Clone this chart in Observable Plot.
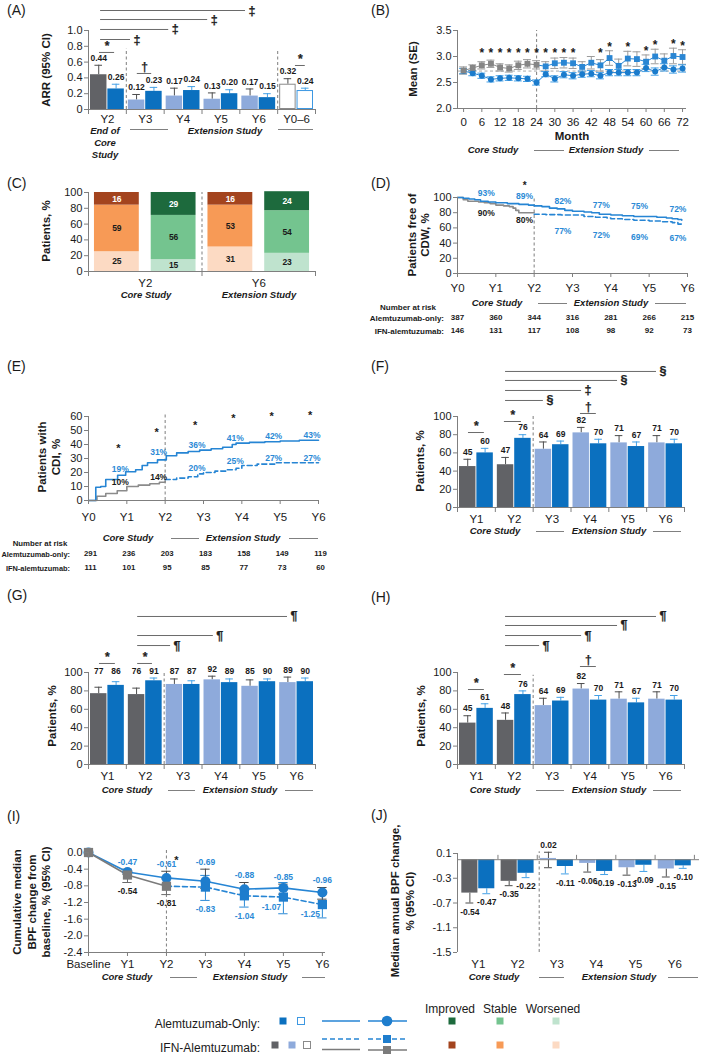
<!DOCTYPE html>
<html><head><meta charset="utf-8">
<script src="https://cdn.jsdelivr.net/npm/d3@7"></script>
<script src="https://cdn.jsdelivr.net/npm/@observablehq/plot@0.6"></script>
<style>
html,body{margin:0;padding:0;background:#fff;}
#root{position:relative;width:702px;height:1056px;overflow:hidden;font-family:'Liberation Sans',Arial,Helvetica,sans-serif;color:#1a1a1a;background:#fff;}
.t{position:absolute;white-space:nowrap;line-height:1;}
.sym{opacity:0.99;}
</style></head><body><div id="root"></div>
<script>
// ================= DATA =================
// (A) ARR
const catsA = ["Y2","Y3","Y4","Y5","Y6","Y0–6"];
const arrIFN = [0.44,0.12,0.17,0.13,0.17,0.32];
const arrIFNUp = [0.56,0.19,0.27,0.21,0.26,0.39];
const arrAlem = [0.26,0.23,0.24,0.20,0.15,0.24];
const arrAlemUp = [0.32,0.28,0.29,0.25,0.20,0.27];
const sigA = [
  {from:-0.18,to:0.61,level:0.886,sym:"‡",pos:"end"},
  {from:-0.18,to:1.62,level:1.013,sym:"‡",pos:"end"},
  {from:-0.18,to:2.65,level:1.139,sym:"‡",pos:"end"},
  {from:-0.18,to:3.65,level:1.253,sym:"‡",pos:"end"},
  {from:-0.21,to:0.19,level:0.722,sym:"*",pos:"top"},
  {from:0.79,to:1.17,level:0.456,sym:"†",pos:"top"},
  {from:4.97,to:5.23,level:0.557,sym:"*",pos:"top"}
];
// (B) Mean (SE) by month
const monthsB = [0,3,6,9,12,15,18,21,24,27,30,33,36,39,42,45,48,51,54,57,60,63,66,69,72];
const mriIFN = [2.73,2.78,2.83,2.86,2.79,2.77,2.83,2.86,2.84,2.81,2.87,2.88,2.87,2.80,2.88,2.83,2.97,2.82,2.96,2.95,2.90,3.00,2.92,3.01,2.99];
const mriIFNse = [0.07,0.06,0.07,0.07,0.07,0.07,0.08,0.08,0.08,0.09,0.10,0.10,0.10,0.10,0.12,0.11,0.14,0.13,0.14,0.14,0.13,0.14,0.13,0.15,0.14];
const mriAlem = [2.72,2.68,2.63,2.56,2.58,2.59,2.58,2.57,2.50,2.66,2.57,2.65,2.63,2.66,2.67,2.63,2.69,2.69,2.69,2.69,2.78,2.71,2.79,2.75,2.77];
const mriAlemSe = [0.05,0.05,0.05,0.05,0.05,0.05,0.05,0.05,0.05,0.05,0.06,0.06,0.06,0.06,0.06,0.06,0.06,0.06,0.06,0.06,0.07,0.07,0.07,0.07,0.07];
const starMonthsB = [6,9,12,15,18,21,24,27,30,33,36,45,48,54,60,63,69,72];
const baselineB = 2.72;
// (C) Improved / Stable / Worsened
const groupsC = ["IFN Y2","Alem Y2","IFN Y6","Alem Y6"];
const improvedC = [16,29,16,24];
const stableC = [59,56,53,54];
const worsenedC = [25,15,31,23];
// (D) CDW Kaplan-Meier
const cdwAlem = [[0,100],[0.15,99],[0.3,98],[0.45,97],[0.6,95],[0.8,94],[1.0,93],[1.3,92],[1.6,91],[1.85,90],[2.0,89],[2.2,88],[2.4,86],[2.6,85],[2.8,83],[3.0,82],[3.3,81],[3.5,80],[3.7,78],[4.0,77],[4.3,76],[4.6,75],[5.0,75],[5.2,74],[5.45,73],[5.6,72],[5.75,71],[5.85,70]];
const cdwIFNcore = [[0,100],[0.15,97],[0.27,95],[0.55,94],[0.7,93],[0.85,92],[1.0,90],[1.2,89],[1.35,88],[1.45,86],[1.52,83],[1.6,80],[2.0,80]];
const cdwIFNext = [[2.0,78],[2.3,77.5],[2.7,77],[3.0,77],[3.3,75],[3.6,74],[3.9,73],[4.0,72],[4.3,71],[4.6,70],[5.0,69],[5.3,68],[5.6,67],[5.75,65],[5.85,65]];
const cdwUp = [93,89,82,77,75,72];
const cdwLow = [90,80,77,72,69,67];
const starYearsD = [2];
const riskAlemD = [387,360,344,316,281,266,215];
const riskIFND = [146,131,117,108,98,92,73];
// (E) CDI Kaplan-Meier
const cdiAlem = [[0,0],[0.19,9.5],[0.32,10],[0.45,15],[0.76,18],[0.97,20.5],[1.23,22],[1.4,25],[1.54,27],[1.8,29],[2.03,32],[2.3,34],[2.6,35],[2.9,36],[3.2,37],[3.5,38],[3.75,40],[3.85,41],[4.2,41.5],[4.6,42],[5.0,42.5],[5.5,43],[6.0,43]];
const cdiIFNcore = [[0,0],[0.22,3],[0.45,5],[0.75,7],[1.0,10],[1.3,11],[1.6,12],[1.85,13],[2.0,14]];
const cdiIFNext = [[2.0,15],[2.3,16],[2.6,17],[2.85,19],[3.0,20],[3.3,21],[3.6,22],[3.85,23],[4.0,25],[4.4,26],[4.9,27],[6.0,27]];
const cdiUp = [19,31,36,41,42,43];
const cdiLow = [10,14,20,25,27,27];
const starYearsE = [1,2,3,4,5,6];
const riskAlemE = [291,236,203,183,158,149,119];
const riskIFNE = [111,101,95,85,77,73,60];
// (F)
const catsY = ["Y1","Y2","Y3","Y4","Y5","Y6"];
const fIFN = [45,47,64,82,71,71], fIFNUp = [53,55,72,88,79,79];
const fAlem = [60,76,69,70,67,70], fAlemUp = [65,80,73,75,72,75];
const sigF = [
  {from:0.77,to:4.76,level:149.5,sym:"§",pos:"end"},
  {from:0.77,to:3.73,level:139.6,sym:"§",pos:"end"},
  {from:0.77,to:2.78,level:128.6,sym:"‡",pos:"end"},
  {from:0.77,to:1.77,level:117.6,sym:"§",pos:"end"},
  {from:-0.21,to:0.21,level:82.4,sym:"*",pos:"top"},
  {from:0.74,to:1.19,level:94.5,sym:"*",pos:"top"},
  {from:2.75,to:3.17,level:103.3,sym:"†",pos:"top"}
];
// (G)
const gIFN = [77,76,87,92,85,89], gIFNUp = [84,83,93,96,92,95];
const gAlem = [86,91,87,89,90,90], gAlemUp = [90,94,91,93,93,94];
const sigG = [
  {from:0.80,to:4.76,level:160.9,sym:"¶",pos:"end"},
  {from:0.80,to:2.80,level:140.2,sym:"¶",pos:"end"},
  {from:0.80,to:1.67,level:129.3,sym:"¶",pos:"end"},
  {from:-0.21,to:0.21,level:109.8,sym:"*",pos:"top"},
  {from:0.80,to:1.19,level:109.8,sym:"*",pos:"top"}
];
// (H)
const hIFN = [45,48,64,82,71,71], hIFNUp = [53,56,72,88,79,79];
const hAlem = [61,76,69,70,67,70], hAlemUp = [66,80,73,75,72,75];
const sigH = [
  {from:0.77,to:4.76,level:160.9,sym:"¶",pos:"end"},
  {from:0.77,to:3.73,level:151.1,sym:"¶",pos:"end"},
  {from:0.77,to:2.78,level:140.2,sym:"¶",pos:"end"},
  {from:0.77,to:1.67,level:129.3,sym:"¶",pos:"end"},
  {from:-0.21,to:0.21,level:81.5,sym:"*",pos:"top"},
  {from:0.74,to:1.19,level:97.8,sym:"*",pos:"top"},
  {from:2.75,to:3.17,level:106.5,sym:"†",pos:"top"}
];
// (I) cumulative BPF change
const catsI = ["Baseline","Y1","Y2","Y3","Y4","Y5","Y6"];
const bpfAlem = [0,-0.47,-0.61,-0.69,-0.88,-0.85,-0.96];
const bpfAlemLo = [0,-0.52,-0.76,-0.86,-1.00,-1.00,-1.12];
const bpfAlemHi = [0,-0.40,-0.45,-0.40,-0.72,-0.76,-0.84];
const bpfIFN = [0,-0.54,-0.81,-0.83,-1.04,-1.07,-1.25];
const bpfIFNLo = [0,-0.72,-1.01,-1.15,-1.31,-1.47,-1.57];
const bpfIFNHi = [0,-0.47,-0.63,-0.55,-0.87,-0.72,-0.95];
// (J) annual BPF change
const jIFN = [-0.54,-0.35,0.02,-0.06,-0.13,-0.15];
const jIFNLo = [-0.70,-0.42,-0.13,-0.20,-0.25,-0.28];
const jIFNHi = [-0.54,-0.35,0.12,-0.06,-0.13,-0.15];
const jAlem = [-0.47,-0.22,-0.11,-0.19,-0.09,-0.10];
const jAlemLo = [-0.55,-0.29,-0.23,-0.24,-0.19,-0.14];

// ================= STYLE =================
const root = document.getElementById("root");
const FONT = "'Liberation Sans', Arial, Helvetica, sans-serif";
const AX = "#7f7f7f", TXT = "#1a1a1a", DASH = "#8a8a8a";
const BLUE = "#0b70bf", LIGHT = "#8eaadb", GREY = "#616266";
const LINEBLUE = "#2685d4", LBL = "#2b8ad6", LINEGREY = "#8b8b8b";
const ERRG = "#4d4d4d", ERRB = "#44a0e6";
const IFNPAL = {improved:"#a3441e", stable:"#f79a56", worsened:"#fcdac3"};
const ALEMPAL = {improved:"#1d6a3d", stable:"#74c48f", worsened:"#bfe3ce"};

function tx(s, x, y, o = {}) {
  const d = document.createElement("div");
  d.className = "t"; d.textContent = s;
  Object.assign(d.style, {left: x + "px", top: y + "px", fontSize: (o.size ?? 9.5) + "px",
    fontWeight: o.weight ?? "bold", fontStyle: o.style ?? "normal", color: o.color ?? TXT});
  const ax = o.anchor === "start" ? "0" : o.anchor === "end" ? "-100%" : "-50%";
  d.style.transform = `translate(${ax},-50%)` + (o.rotate ? ` rotate(${o.rotate}deg)` : "");
  root.append(d);
}
function hl(x1, x2, y, color = "#808080") {
  const d = document.createElement("div");
  Object.assign(d.style, {position: "absolute", left: x1 + "px", top: (y - 0.5) + "px", width: (x2 - x1) + "px", height: "1px", background: color});
  root.append(d);
}
function put(el, left, top) {
  el.style.position = "absolute"; el.style.left = left + "px"; el.style.top = top + "px"; root.append(el);
}
function mk(o) {
  return Plot.plot({
    width: o.W ?? 351, height: o.H,
    marginLeft: o.mL, marginRight: o.mR, marginTop: o.mT, marginBottom: o.mB,
    x: {domain: o.xd, label: null}, y: {domain: o.yd, label: null},
    color: {type: "identity"},
    style: {background: "transparent", overflow: "visible", fontFamily: FONT, fontSize: "11px", color: TXT},
    marks: o.marks
  });
}
const yAxis = (ticks, fmt) => Plot.axisY({ticks, tickFormat: fmt, tickSize: 4, tickPadding: 2, stroke: AX, fill: TXT, fontSize: 11, label: null});
const xTicks = (ticks, size = 5) => Plot.axisX({ticks, tickSize: size, tickFormat: () => "", stroke: AX, label: null});
const xLabels = (ticks, fmt, pad = 7, size = 11.5) => Plot.axisX({ticks, tickSize: 0, tickPadding: pad, tickFormat: fmt, fill: TXT, fontSize: size, label: null});
const dashRule = (x, y1, y2) => Plot.ruleX([x], {y1, y2, stroke: DASH, strokeDasharray: "3,2.5", strokeWidth: 1.1});
const bracketMarks = (br) => [
  Plot.ruleY(br, {y: "level", x1: "from", x2: "to", stroke: "#6a6a6a"}),
  Plot.text(br.filter(b => b.pos === "end"), {x: "to", y: "level", text: "sym", textAnchor: "start", dx: 3, fontSize: 12.5, fontWeight: "bold", fill: TXT, stroke: TXT, strokeWidth: 0.25, opacity: 0.99, className: "sym"}),
  Plot.text(br.filter(b => b.pos === "top"), {x: d => (d.from + d.to) / 2, y: "level", text: "sym", dy: -6, fontSize: 12, fontWeight: "bold", fill: TXT, stroke: TXT, strokeWidth: 0.25, opacity: 0.99, className: "sym"})
];

function barPanel(c) {
  const rows = c.cats.map((cat, i) => ({i, cat, ifn: c.ifn[i], ifnUp: c.ifnUp[i], alem: c.alem[i], alemUp: c.alemUp[i]}));
  const W = 0.435, G = 0.012, CAP = 0.1;
  const xI = d => d.i - G - W / 2, xA = d => d.i + G + W / 2;
  const bounds = d3.range(c.xd[0], c.xd[1] + 1e-6, 1);
  const outline = c.outline || (() => false);
  const solid = rows.filter(d => !outline(d.i)), open = rows.filter(d => outline(d.i));
  const marks = [
    ...c.dash.map(q => dashRule(q.x, c.yd[0], q.top)),
    Plot.ruleX(rows, {x: xI, y1: "ifn", y2: "ifnUp", stroke: ERRG}),
    Plot.ruleY(rows, {y: "ifnUp", x1: d => xI(d) - CAP, x2: d => xI(d) + CAP, stroke: ERRG}),
    Plot.ruleX(rows, {x: xA, y1: "alem", y2: "alemUp", stroke: ERRB}),
    Plot.ruleY(rows, {y: "alemUp", x1: d => xA(d) - CAP, x2: d => xA(d) + CAP, stroke: ERRB}),
    Plot.rectY(solid, {x1: d => d.i - G - W, x2: d => d.i - G, y1: 0, y2: "ifn", fill: d => c.ifnFill(d.i)}),
    Plot.rectY(solid, {x1: d => d.i + G, x2: d => d.i + G + W, y1: 0, y2: "alem", fill: BLUE}),
    Plot.rectY(open, {x1: d => d.i - G - W, x2: d => d.i - G, y1: 0, y2: "ifn", fill: "white", stroke: "#8a8a8a", inset: 0.5}),
    Plot.rectY(open, {x1: d => d.i + G, x2: d => d.i + G + W, y1: 0, y2: "alem", fill: "white", stroke: "#3d98e2", inset: 0.5}),
    Plot.ruleX([c.xd[0]], {stroke: AX}),
    Plot.ruleY([c.yd[0]], {stroke: AX}),
    yAxis(c.yTicks, c.yFmt),
    xTicks(bounds),
    xLabels(rows.map(d => d.i), i => c.cats[i], c.pad ?? 7),
    Plot.text(rows, {x: xI, y: d => c.labelY(d.ifnUp), text: d => c.fmt(d.ifn), dy: -7, fontSize: 8.5, fontWeight: "bold", fill: TXT}),
    Plot.text(rows, {x: xA, y: d => c.labelY(d.alemUp), text: d => c.fmt(d.alem), dy: -7, fontSize: 8.5, fontWeight: "bold", fill: TXT}),
    ...bracketMarks(c.brackets)
  ];
  put(mk({H: c.H, mL: c.mL, mR: c.mR, mT: c.mT, mB: c.mB, xd: c.xd, yd: c.yd, marks}), c.left, c.top);
}

// ================= PANEL A =================
barPanel({left: 0, top: 0, H: 165, mL: 88, mR: 36, mT: 30, mB: 56, xd: [-0.5, 5.5], yd: [0, 1], pad: 5.5,
  yTicks: [0, 0.2, 0.4, 0.6, 0.8, 1.0], yFmt: d => d === 0 ? "0" : d.toFixed(1),
  cats: catsA, ifn: arrIFN, ifnUp: arrIFNUp, alem: arrAlem, alemUp: arrAlemUp,
  ifnFill: i => i === 0 ? GREY : LIGHT, outline: i => i === 5,
  fmt: v => v.toFixed(2), labelY: u => u, dash: [{x: 0.5, top: 0.77}, {x: 4.5, top: 0.75}], brackets: sigA});

// ================= PANEL B =================
{
  const rows = monthsB.map((m, i) => ({m, ifn: mriIFN[i], ifnSe: mriIFNse[i], alem: mriAlem[i], alemSe: mriAlemSe[i]}));
  const core = rows.filter(d => d.m <= 24), extLine = rows.filter(d => d.m >= 24), ext = rows.filter(d => d.m > 24);
  const cap = 1.3;
  const marks = [
    Plot.ruleY([baselineB], {stroke: "#a8a8a8", strokeDasharray: "3,2.5"}),
    dashRule(24, 2.0, 3.5),
    Plot.ruleX(rows, {x: "m", y1: d => d.ifn - d.ifnSe, y2: d => d.ifn + d.ifnSe, stroke: "#9c9c9c"}),
    Plot.ruleY(rows, {y: d => d.ifn + d.ifnSe, x1: d => d.m - cap, x2: d => d.m + cap, stroke: "#9c9c9c"}),
    Plot.ruleY(rows, {y: d => d.ifn - d.ifnSe, x1: d => d.m - cap, x2: d => d.m + cap, stroke: "#9c9c9c"}),
    Plot.ruleX(rows, {x: "m", y1: d => d.alem - d.alemSe, y2: d => d.alem + d.alemSe, stroke: ERRB}),
    Plot.ruleY(rows, {y: d => d.alem + d.alemSe, x1: d => d.m - cap, x2: d => d.m + cap, stroke: ERRB}),
    Plot.ruleY(rows, {y: d => d.alem - d.alemSe, x1: d => d.m - cap, x2: d => d.m + cap, stroke: ERRB}),
    Plot.line(core, {x: "m", y: "ifn", stroke: LINEGREY, strokeWidth: 1}),
    Plot.line(extLine, {x: "m", y: "ifn", stroke: LINEBLUE, strokeWidth: 1}),
    Plot.line(rows, {x: "m", y: "alem", stroke: LINEBLUE, strokeWidth: 1}),
    Plot.dot(rows, {x: "m", y: "alem", r: 3, fill: "#1a7bcc"}),
    Plot.dot(core, {x: "m", y: "ifn", symbol: "square", r: 3.3, fill: "#858585"}),
    Plot.dot(ext, {x: "m", y: "ifn", symbol: "square", r: 3.3, fill: "#2a86d3"}),
    Plot.ruleX([-2], {stroke: AX}),
    Plot.ruleY([2.0], {stroke: AX}),
    yAxis([2.0, 2.5, 3.0, 3.5], d => d.toFixed(1)),
    Plot.axisX({ticks: d3.range(0, 73, 6), tickSize: 4, tickPadding: 5, stroke: AX, fill: TXT, fontSize: 11.5, label: null}),
    Plot.text(rows.filter(d => starMonthsB.includes(d.m)), {x: "m", y: d => Math.max(d.ifn + d.ifnSe, 2.98), text: () => "*", dy: -4, fontSize: 12, fontWeight: "bold", fill: TXT})
  ];
  put(mk({H: 160, mL: 106, mR: 16, mT: 30, mB: 52, xd: [-2, 73.3], yd: [2.0, 3.5], marks}), 351, 0);
}

// ================= PANEL C =================
{
  const table = groupsC.map((g, k) => ({k, g, worsened: worsenedC[k], stable: stableC[k], improved: improvedC[k]}));
  const keys = ["worsened", "stable", "improved"];
  const series = d3.stack().keys(keys)(table);
  const segs = [];
  series.forEach(s => s.forEach((p, k) => {
    const pal = k % 2 === 0 ? IFNPAL : ALEMPAL;
    segs.push({k, key: s.key, y1: p[0], y2: p[1], v: p[1] - p[0], fill: pal[s.key], tcol: s.key === "improved" ? "#ffffff" : TXT});
  }));
  const marks = [
    Plot.rectY(segs, {x1: d => d.k + 0.105, x2: d => d.k + 0.895, y1: "y1", y2: "y2", fill: "fill"}),
    Plot.text(segs, {x: d => d.k + 0.5, y: d => (d.y1 + d.y2) / 2, text: "v", fill: "tcol", fontSize: 8.5, fontWeight: "bold"}),
    dashRule(2, 0, 100),
    Plot.ruleX([0], {stroke: AX}),
    Plot.ruleY([0], {stroke: AX}),
    yAxis([0, 20, 40, 60, 80, 100], d => String(d)),
    xTicks([0, 2, 4]),
    xLabels([1, 3], d => d === 1 ? "Y2" : "Y6", 7)
  ];
  put(mk({H: 110, mL: 88, mR: 36, mT: 12, mB: 19, xd: [0, 4], yd: [0, 100], marks}), 0, 180);
}

// ================= PANEL D =================
{
  const yrs = d3.range(0, 7);
  const up = cdwUp.map((v, j) => ({yr: j + 1, v}));
  const lowCore = cdwLow.slice(0, 2).map((v, j) => ({yr: j + 1, v}));
  const lowExt = cdwLow.slice(2).map((v, j) => ({yr: j + 3, v}));
  const marks = [
    dashRule(2, 0, 100),
    Plot.line(cdwIFNcore, {x: d => d[0], y: d => d[1], curve: "step-after", stroke: LINEGREY, strokeWidth: 1.6}),
    Plot.line(cdwIFNext, {x: d => d[0], y: d => d[1], curve: "step-after", stroke: LINEBLUE, strokeWidth: 1.6, strokeDasharray: "5,3"}),
    Plot.line(cdwAlem, {x: d => d[0], y: d => d[1], curve: "step-after", stroke: LINEBLUE, strokeWidth: 1.6}),
    Plot.ruleX([0], {stroke: AX}),
    Plot.ruleY([0], {stroke: AX}),
    yAxis([0, 20, 40, 60, 80, 100], d => String(d)),
    Plot.axisX({ticks: yrs, tickSize: 4, tickPadding: 6.5, tickFormat: d => "Y" + d, stroke: AX, fill: TXT, fontSize: 11.5, label: null}),
    Plot.text(up, {x: d => d.yr - 0.25, y: "v", text: d => d.v + "%", dy: -10, fill: LBL, fontSize: 8.5, fontWeight: "bold"}),
    Plot.text(lowCore, {x: d => d.yr - 0.25, y: "v", text: d => d.v + "%", dy: 8, fill: TXT, fontSize: 8.5, fontWeight: "bold"}),
    Plot.text(lowExt, {x: d => d.yr - 0.25, y: "v", text: d => d.v + "%", dy: 16, fill: LBL, fontSize: 8.5, fontWeight: "bold"}),
    Plot.text(up.filter(d => starYearsD.includes(d.yr)), {x: d => d.yr - 0.25, y: "v", text: () => "*", dy: -20, fill: TXT, fontSize: 10, fontWeight: "bold"}),
    Plot.text(yrs, {x: d => d, text: d => riskAlemD[d], frameAnchor: "bottom", dy: 46, fontSize: 8, fontWeight: "bold", fill: TXT}),
    Plot.text(yrs, {x: d => d, text: d => riskIFND[d], frameAnchor: "bottom", dy: 59, fontSize: 8, fontWeight: "bold", fill: TXT})
  ];
  put(mk({H: 165, mL: 106, mR: 15, mT: 17, mB: 72, xd: [0, 6], yd: [0, 100], marks}), 351, 180);
}

// ================= PANEL E =================
{
  const yrs = d3.range(0, 7);
  const up = cdiUp.map((v, j) => ({yr: j + 1, v}));
  const lowCore = cdiLow.slice(0, 2).map((v, j) => ({yr: j + 1, v}));
  const lowExt = cdiLow.slice(2).map((v, j) => ({yr: j + 3, v}));
  const marks = [
    dashRule(2, 0, 61),
    Plot.line(cdiIFNcore, {x: d => d[0], y: d => d[1], curve: "step-after", stroke: LINEGREY, strokeWidth: 1.6}),
    Plot.line(cdiIFNext, {x: d => d[0], y: d => d[1], curve: "step-after", stroke: LINEBLUE, strokeWidth: 1.6, strokeDasharray: "5,3"}),
    Plot.line(cdiAlem, {x: d => d[0], y: d => d[1], curve: "step-after", stroke: LINEBLUE, strokeWidth: 1.6}),
    Plot.ruleX([0], {stroke: AX}),
    Plot.ruleY([0], {stroke: AX}),
    yAxis([0, 10, 20, 30, 40, 50, 60], d => String(d)),
    Plot.axisX({ticks: yrs, tickSize: 4, tickPadding: 8, tickFormat: d => "Y" + d, stroke: AX, fill: TXT, fontSize: 11.5, label: null}),
    Plot.text(up, {x: d => d.yr - 0.17, y: "v", text: d => d.v + "%", dy: -5, fill: LBL, fontSize: 8.5, fontWeight: "bold"}),
    Plot.text(lowCore, {x: d => d.yr - 0.17, y: "v", text: d => d.v + "%", dy: -4, fill: TXT, fontSize: 8.5, fontWeight: "bold"}),
    Plot.text(lowExt, {x: d => d.yr - 0.17, y: "v", text: d => d.v + "%", dy: -4, fill: LBL, fontSize: 8.5, fontWeight: "bold"}),
    Plot.text(up.filter(d => starYearsE.includes(d.yr)), {x: d => d.yr - 0.22, y: "v", text: () => "*", dy: -25, fill: TXT, fontSize: 11, fontWeight: "bold"}),
    Plot.text(yrs, {x: d => d, text: d => riskAlemE[d], frameAnchor: "bottom", dy: 55, dx: 2, fontSize: 7.8, fontWeight: "bold", fill: TXT}),
    Plot.text(yrs, {x: d => d, text: d => riskIFNE[d], frameAnchor: "bottom", dy: 69, dx: 2, fontSize: 7.8, fontWeight: "bold", fill: TXT})
  ];
  put(mk({H: 180, mL: 88, mR: 33, mT: 16, mB: 80, xd: [0, 6], yd: [0, 60], marks}), 0, 400);
}

// ================= PANELS F, G, H =================
barPanel({left: 351, top: 360, H: 170, mL: 106, mR: 18, mT: 56, mB: 23, xd: [-0.5, 5.5], yd: [0, 100],
  yTicks: [0, 20, 40, 60, 80, 100], yFmt: d => String(d),
  cats: catsY, ifn: fIFN, ifnUp: fIFNUp, alem: fAlem, alemUp: fAlemUp,
  ifnFill: i => i < 2 ? GREY : LIGHT, fmt: v => String(v), labelY: u => u,
  dash: [{x: 1.5, top: 100}], brackets: sigF});
barPanel({left: 0, top: 605, H: 180, mL: 88, mR: 36, mT: 67, mB: 21, xd: [-0.5, 5.5], yd: [0, 100],
  yTicks: [0, 20, 40, 60, 80, 100], yFmt: d => String(d),
  cats: catsY, ifn: gIFN, ifnUp: gIFNUp, alem: gAlem, alemUp: gAlemUp,
  ifnFill: i => i < 2 ? GREY : LIGHT, fmt: v => String(v), labelY: u => Math.max(u, 94),
  dash: [{x: 1.5, top: 100}], brackets: sigG});
barPanel({left: 351, top: 605, H: 180, mL: 106, mR: 18, mT: 67, mB: 21, xd: [-0.5, 5.5], yd: [0, 100],
  yTicks: [0, 20, 40, 60, 80, 100], yFmt: d => String(d),
  cats: catsY, ifn: hIFN, ifnUp: hIFNUp, alem: hAlem, alemUp: hAlemUp,
  ifnFill: i => i < 2 ? GREY : LIGHT, fmt: v => String(v), labelY: u => u,
  dash: [{x: 1.5, top: 97}], brackets: sigH});

// ================= PANEL I =================
{
  const rows = catsI.map((c, i) => ({i, c, a: bpfAlem[i], aLo: bpfAlemLo[i], aHi: bpfAlemHi[i], f: bpfIFN[i], fLo: bpfIFNLo[i], fHi: bpfIFNHi[i]}));
  const rs = rows.filter(d => d.i > 0);
  const cap = 0.12;
  const ifnCol = d => d.i <= 2 ? "#6b6b6b" : LBL;
  const marks = [
    dashRule(2, -2.4, 0.05),
    Plot.ruleX(rs, {x: "i", y1: "fLo", y2: "fHi", stroke: ifnCol}),
    Plot.ruleY(rs, {y: "fLo", x1: d => d.i - cap, x2: d => d.i + cap, stroke: ifnCol}),
    Plot.ruleY(rs, {y: "fHi", x1: d => d.i - cap, x2: d => d.i + cap, stroke: ifnCol}),
    Plot.ruleX(rs, {x: "i", y1: "aLo", y2: "aHi", stroke: "#4a4a4a"}),
    Plot.ruleY(rs, {y: "aLo", x1: d => d.i - cap, x2: d => d.i + cap, stroke: "#4a4a4a"}),
    Plot.ruleY(rs, {y: "aHi", x1: d => d.i - cap, x2: d => d.i + cap, stroke: "#4a4a4a"}),
    Plot.line(rows, {x: "i", y: "a", stroke: LINEBLUE, strokeWidth: 1.6}),
    Plot.line(rows.filter(d => d.i <= 2), {x: "i", y: "f", stroke: "#7b7b7b", strokeWidth: 1.6}),
    Plot.line(rows.filter(d => d.i >= 2), {x: "i", y: "f", stroke: LINEBLUE, strokeWidth: 1.6, strokeDasharray: "5,3"}),
    Plot.dot(rows, {x: "i", y: "a", r: 5, fill: "#1e7dcd"}),
    Plot.dot(rows.filter(d => d.i <= 2), {x: "i", y: "f", symbol: "square", r: 5.2, fill: "#7b7b7b"}),
    Plot.dot(rows.filter(d => d.i > 2), {x: "i", y: "f", symbol: "square", r: 5.2, fill: "#1e7dcd"}),
    Plot.ruleX([0], {stroke: AX}),
    Plot.ruleY([-2.4], {stroke: AX}),
    yAxis(d3.range(0, -2.41, -0.4), d => d.toFixed(1)),
    xTicks(d3.range(0, 7), 4),
    xLabels(d3.range(0, 7), i => catsI[i], 7),
    Plot.text(rs, {x: "i", y: "aHi", text: d => d.a.toFixed(2), dy: -7, fill: LBL, fontSize: 8.5, fontWeight: "bold"}),
    Plot.text(rs.filter(d => d.i <= 2), {x: "i", y: "fLo", text: d => d.f.toFixed(2), dy: 9, fill: TXT, fontSize: 8.5, fontWeight: "bold"}),
    Plot.text(rs.filter(d => d.i > 2 && d.i < 5), {x: "i", y: "fLo", text: d => d.f.toFixed(2), dy: 9, fill: LBL, fontSize: 8.5, fontWeight: "bold"}),
    Plot.text(rs.filter(d => d.i >= 5), {x: "i", y: "f", text: d => d.f.toFixed(2), dx: -12, dy: 10, fill: LBL, fontSize: 8.5, fontWeight: "bold"}),
    Plot.text(rs.filter(d => d.i === 2), {x: "i", y: "aHi", text: () => "*", dx: 10, dy: -11, fill: TXT, fontSize: 11, fontWeight: "bold"})
  ];
  put(mk({H: 145, mL: 88, mR: 26, mT: 22, mB: 23, xd: [0, 6.08], yd: [-2.4, 0], marks}), 0, 830);
}

// ================= PANEL J =================
{
  const rows = catsY.map((c, i) => ({i, c, f: jIFN[i], fLo: jIFNLo[i], fHi: jIFNHi[i], a: jAlem[i], aLo: jAlemLo[i]}));
  const W = 0.41, G = 0.01, cap = 0.1;
  const xI = d => d.i - G - W / 2, xA = d => d.i + G + W / 2;
  const marks = [
    dashRule(1.55, -1.5, 0.13),
    Plot.ruleX(rows, {x: xI, y1: "fLo", y2: "fHi", stroke: ERRG}),
    Plot.ruleY(rows, {y: "fLo", x1: d => xI(d) - cap, x2: d => xI(d) + cap, stroke: ERRG}),
    Plot.ruleY(rows.filter(d => d.fHi > d.f), {y: "fHi", x1: d => xI(d) - cap, x2: d => xI(d) + cap, stroke: ERRG}),
    Plot.ruleX(rows, {x: xA, y1: "aLo", y2: "a", stroke: ERRB}),
    Plot.ruleY(rows, {y: "aLo", x1: d => xA(d) - cap, x2: d => xA(d) + cap, stroke: ERRB}),
    Plot.rectY(rows, {x1: d => d.i - G - W, x2: d => d.i - G, y1: 0, y2: "f", fill: d => d.i < 2 ? GREY : LIGHT}),
    Plot.rectY(rows, {x1: d => d.i + G, x2: d => d.i + G + W, y1: 0, y2: "a", fill: BLUE}),
    Plot.ruleX([-0.53], {stroke: AX}),
    Plot.ruleY([0], {stroke: AX}),
    Plot.ruleX(d3.range(0.5, 5.6, 1), {y1: 0, y2: 0.07, stroke: AX}),
    yAxis([0.1, -0.3, -0.7, -1.1, -1.5], d => d.toFixed(1)),
    xLabels(rows.map(d => d.i), i => catsY[i], 7),
    Plot.text(rows.filter(d => d.f < 0), {x: xI, y: "fLo", text: d => d.f.toFixed(2), dy: 9, fill: TXT, fontSize: 8.5, fontWeight: "bold"}),
    Plot.text(rows.filter(d => d.f >= 0), {x: xI, y: "fHi", text: d => d.f.toFixed(2), dy: -7, fill: TXT, fontSize: 8.5, fontWeight: "bold"}),
    Plot.text(rows, {x: xA, y: "aLo", text: d => d.a.toFixed(2), dy: 9, fill: TXT, fontSize: 8.5, fontWeight: "bold"})
  ];
  put(mk({H: 145, mL: 106, mR: 3, mT: 23, mB: 23, xd: [-0.53, 5.63], yd: [-1.5, 0.1], marks}), 351, 830);
}

// ================= TEXT: panel letters, titles, footers =================
[["(A)",7,10],["(B)",371,10],["(C)",7,183],["(D)",371,183],["(E)",7,366],["(F)",371,366],["(G)",7,595],["(H)",371,597],["(I)",7,816],["(J)",371,815]]
  .forEach(([s,x,y]) => tx(s, x, y, {size: 14, weight: "normal", anchor: "start"}));

const yt = (s, x, y) => tx(s, x, y, {size: 11.5, weight: "bold", rotate: -90});
yt("ARR (95% CI)", 47, 70);
yt("Mean (SE)", 414, 69);
yt("Patients, %", 47, 231);
yt("Patients free of", 413, 235); yt("CDW, %", 426, 235);
yt("Patients with", 43, 457); yt("CDI, %", 57, 457);
yt("Patients, %", 421, 461);
yt("Patients, %", 53, 716);
yt("Patients, %", 422, 716);
yt("Cumulative median", 18, 902); yt("BPF change from", 33, 902); yt("baseline, % (95% CI)", 47, 902);
yt("Median annual BPF change,", 396, 901); yt("% (95% CI)", 411, 901);
tx("Month", 572, 137, {size: 11.5, weight: "bold"});

const it = (s, x, y) => tx(s, x, y, {size: 9.5, weight: "bold", style: "italic"});
// A
it("End of", 105, 131); it("Core", 105, 143); it("Study", 105, 155);
it("Extension Study", 225, 131); hl(130, 168, 129); hl(278, 313, 129);
// B
it("Core Study", 493, 150); hl(534, 564, 150); it("Extension Study", 606, 150); hl(649, 679, 150);
// C
it("Core Study", 146, 295); it("Extension Study", 259, 295);
// D
it("Core Study", 497, 303); hl(538, 567, 303); it("Extension Study", 611, 303); hl(655, 686, 303);
tx("Number at risk", 408, 308, {size: 8}); tx("Alemtuzumab-only:", 444, 319, {size: 8, anchor: "end"}); tx("IFN-alemtuzumab:", 444, 332, {size: 8, anchor: "end"});
// E
it("Core Study", 128, 538); hl(171, 199, 538); it("Extension Study", 243, 538); hl(289, 318, 538);
tx("Number at risk", 40, 544, {size: 7.8}); tx("Alemtuzumab-only:", 70, 555, {size: 7.4, anchor: "end"}); tx("IFN-alemtuzumab:", 70, 569, {size: 7.4, anchor: "end"});
// F
it("Core Study", 495, 531); hl(536, 564, 531); it("Extension Study", 609, 531); hl(653, 681, 531);
// G
it("Core Study", 127, 790); hl(168, 195, 790); it("Extension Study", 240, 790); hl(285, 313, 790);
// H
it("Core Study", 495, 790); hl(536, 564, 790); it("Extension Study", 609, 790); hl(653, 681, 790);
// I
it("Core Study", 127, 977); hl(170, 197, 977); it("Extension Study", 250, 977); hl(302, 325, 977);
// J
it("Core Study", 494, 977); hl(539, 564, 977); it("Extension Study", 619, 977); hl(668, 698, 977);

// ================= LEGEND =================
{
  const lg = document.createElement("div");
  lg.style.position = "absolute"; lg.style.left = "0px"; lg.style.top = "995px";
  lg.innerHTML = `<svg width="702" height="61" font-family="${FONT.replace(/'/g, "")}" font-size="12" fill="${TXT}">
  <text x="260" y="33" text-anchor="end">Alemtuzumab-Only:</text>
  <text x="260" y="57" text-anchor="end">IFN-Alemtuzumab:</text>
  <text x="450" y="18" text-anchor="middle">Improved</text>
  <text x="500" y="18" text-anchor="middle">Stable</text>
  <text x="553" y="18" text-anchor="middle">Worsened</text>
  <rect x="279.5" y="22.5" width="7" height="7" fill="${BLUE}"/>
  <rect x="297.5" y="22.5" width="7" height="7" fill="white" stroke="#3d98e2"/>
  <line x1="322" x2="360" y1="26" y2="26" stroke="${LINEBLUE}" stroke-width="1.6"/>
  <line x1="368" x2="407" y1="26" y2="26" stroke="${LINEBLUE}" stroke-width="1.6"/>
  <circle cx="387" cy="26" r="5.3" fill="#1e7dcd"/>
  <rect x="271.5" y="46.5" width="7" height="7" fill="${GREY}"/>
  <rect x="288.5" y="46.5" width="7" height="7" fill="${LIGHT}"/>
  <rect x="303.5" y="46.5" width="7" height="7" fill="white" stroke="#8a8a8a"/>
  <line x1="322" x2="360" y1="44" y2="44" stroke="${LINEBLUE}" stroke-width="1.6" stroke-dasharray="5,3"/>
  <line x1="322" x2="360" y1="54.5" y2="54.5" stroke="#7b7b7b" stroke-width="1.6"/>
  <line x1="368" x2="407" y1="44" y2="44" stroke="${LINEBLUE}" stroke-width="1.6" stroke-dasharray="5,3"/>
  <rect x="383" y="40" width="8" height="8" fill="#1e7dcd"/>
  <line x1="368" x2="407" y1="55" y2="55" stroke="#7b7b7b" stroke-width="1.6"/>
  <rect x="383" y="51" width="8" height="8" fill="#7b7b7b"/>
  <rect x="448.5" y="22.5" width="7" height="7" fill="${ALEMPAL.improved}"/>
  <rect x="496.5" y="22.5" width="7" height="7" fill="${ALEMPAL.stable}"/>
  <rect x="552.5" y="22.5" width="7" height="7" fill="${ALEMPAL.worsened}"/>
  <rect x="448.5" y="46.5" width="7" height="7" fill="${IFNPAL.improved}"/>
  <rect x="496.5" y="46.5" width="7" height="7" fill="${IFNPAL.stable}"/>
  <rect x="552.5" y="46.5" width="7" height="7" fill="${IFNPAL.worsened}"/>
  </svg>`;
  root.append(lg);
}
</script></body></html>
